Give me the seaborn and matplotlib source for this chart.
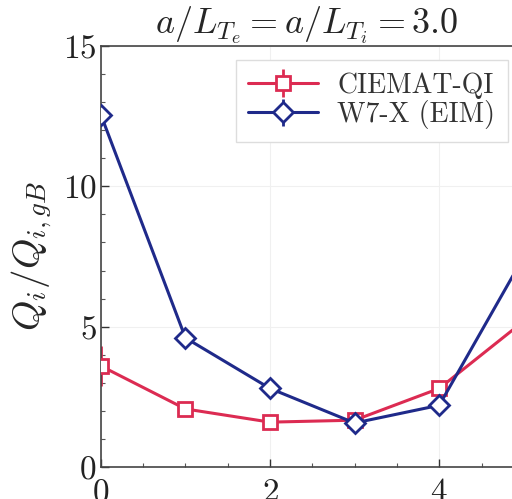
import numpy as np
import matplotlib
matplotlib.use('Agg')
import matplotlib.pyplot as plt
import seaborn as sns
from matplotlib.legend_handler import HandlerTuple

# data
x_vals = [0, 1, 2, 3, 4, 5]
ciemat_q = [3.6, 2.07, 1.6, 1.67, 2.8, 5.2]
ciemat_err = [0.7, 0.2, 0.15, 0.15, 0.2, 0.4]
w7x_q = [12.55, 4.6, 2.8, 1.57, 2.2, 7.5]
w7x_err = [0.2, 0.15, 0.1, 0.1, 0.1, 0.3]
labels = ['CIEMAT-QI', 'W7-X (EIM)']

red = '#dc2b52'
blue = '#1f2a8a'

sns.set_theme(style='whitegrid')
plt.rcParams['font.family'] = 'serif'
plt.rcParams['font.serif'] = ['cmr10', 'DejaVu Serif']
plt.rcParams['mathtext.fontset'] = 'cm'
plt.rcParams['axes.formatter.use_mathtext'] = True

fig = plt.figure(figsize=(5.12, 4.99), dpi=100)
ax = fig.add_axes([0.197, 0.064, 0.803, 0.844])

err_c = ax.errorbar(x_vals, ciemat_q, yerr=ciemat_err, fmt='none', ecolor=red,
                    elinewidth=2, capsize=0, zorder=1)
err_w = ax.errorbar(x_vals, w7x_q, yerr=w7x_err, fmt='none', ecolor=blue,
                    elinewidth=2, capsize=0, zorder=1)
sns.lineplot(x=x_vals, y=ciemat_q, color=red, marker='s', markersize=10,
             markerfacecolor='white', markeredgecolor=red, markeredgewidth=2,
             linewidth=2.2, legend=False, ax=ax, zorder=3)
line_c = ax.lines[-1]
sns.lineplot(x=x_vals, y=w7x_q, color=blue, marker='D', markersize=10,
             markerfacecolor='white', markeredgecolor=blue, markeredgewidth=2,
             linewidth=2.2, legend=False, ax=ax, zorder=3)
line_w = ax.lines[-1]

ax.set_xlim(0, 4.86)
ax.set_ylim(0, 15)
ax.set_xticks([0, 2, 4])
ax.set_yticks([0, 5, 10, 15])
ax.set_xticks(np.arange(0, 5, 0.5), minor=True)
ax.set_yticks(np.arange(0, 15, 1), minor=True)
ax.tick_params(which='major', direction='in', length=6, width=1, labelsize=24,
               colors='#333333', left=True, bottom=True, pad=3)
ax.tick_params(axis='x', which='major', pad=8)
ax.tick_params(which='minor', direction='in', length=3, width=0.8,
               colors='#555555', left=True, bottom=True)
ax.tick_params(axis='both', labelcolor='#222222')
ax.grid(which='major', color='#f0f0f0', linewidth=0.8)
ax.grid(which='minor', visible=False)
for side in ['left', 'bottom', 'top']:
    ax.spines[side].set_color('#444444')
    ax.spines[side].set_linewidth(1.2)
ax.spines['right'].set_visible(False)

ax.set_title(r'$a/L_{T_e} = a/L_{T_i} = 3.0$', fontsize=26, pad=4)
ax.set_ylabel(r'$Q_i/Q_{i,gB}$', fontsize=28, labelpad=6)

leg = ax.legend(handles=[(err_c, line_c), (err_w, line_w)], labels=labels,
                handler_map={tuple: HandlerTuple(ndivide=1, pad=0)},
                loc='upper right', fontsize=20, handlelength=2.5,
                frameon=True, framealpha=1, edgecolor='#dddddd', fancybox=False,
                borderpad=0.45, labelspacing=0.05, handletextpad=0.7,
                borderaxespad=0, bbox_to_anchor=(0.99, 0.967))
for t in leg.get_texts():
    t.set_color('#333333')

fig.savefig('out.png', dpi=100)
